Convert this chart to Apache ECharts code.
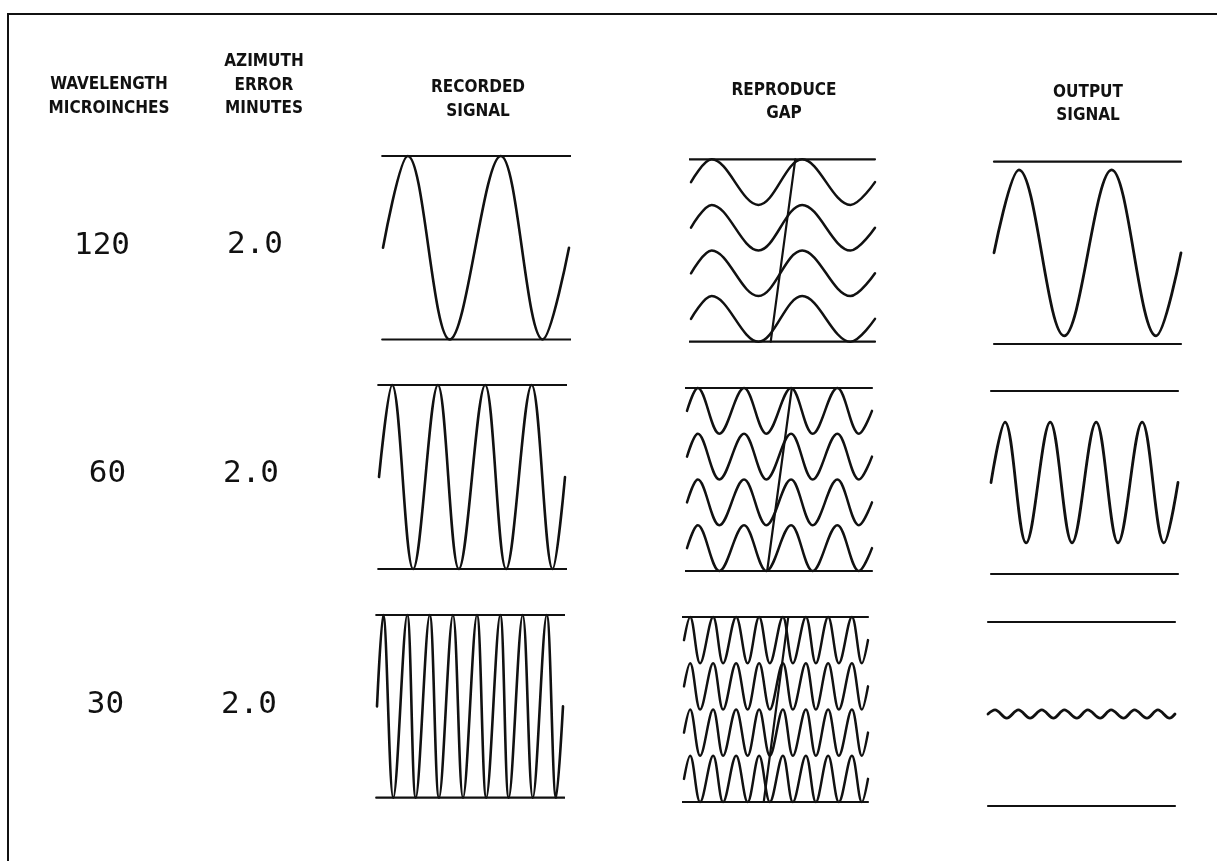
<!DOCTYPE html>
<html><head><meta charset="utf-8">
<script src="https://cdn.jsdelivr.net/npm/echarts@6/dist/echarts.min.js"></script>
<style>html,body{margin:0;padding:0;background:#fff}#c{width:1217px;height:861px}</style>
</head><body><div id="c"></div>
<script>
// ---------- data ----------
const columnTitles = ['RECORDED\nSIGNAL', 'REPRODUCE\nGAP', 'OUTPUT\nSIGNAL'];
const leftTitles = ['WAVELENGTH\nMICROINCHES', 'AZIMUTH\nERROR\nMINUTES'];
const wavelengths = ['120', '60', '30'];
const azimuthErrors = ['2.0', '2.0', '2.0'];
// x in microinches along the tape (0..240), y in normalised amplitude
const recorded120 = [[0,0],[32,1],[86,-1],[152,1],[206,-1],[240,0]];
const recorded60 = [[0,0],[17,1],[44,-1],[76,1],[103,-1],[137,1],[164,-1],[197,1],[224,-1],[240,0]];
const recorded30 = [[0,0],[8,1],[21,-1],[39,1],[50,-1],[68,1],[80,-1],[98,1],[111,-1],[129,1],[141,-1],[159,1],[170,-1],[188,1],[201,-1],[219,1],[231,-1],[240,0]];
const gapTrack120 = [[0,0],[27,1],[88,-1],[145,1],[208,-1],[240,0]];
const gapTrack60 = [[0,0],[14,1],[42,-1],[74,1],[103,-1],[135,1],[163,-1],[195,1],[223,-1],[240,0]];
const gapTrack30 = [[0,0],[8,1],[21,-1],[38,1],[51,-1],[68,1],[83,-1],[98,1],[112,-1],[129,1],[142,-1],[159,1],[172,-1],[188,1],[202,-1],[219,1],[232,-1],[240,0]];
const trackCenters = [3, 1, -1, -3];
const gapSlant = [[104,-4],[136,4]];
const output120 = [[0,0],[32,0.91],[90,-0.91],[151,0.91],[208,-0.91],[240,0]];
const output60 = [[0,0],[18,0.66],[45,-0.66],[76,0.66],[104,-0.66],[135,0.66],[163,-0.66],[194,0.66],[222,-0.66],[240,0]];
const output30 = [[0,0],[9,0.045],[24,-0.045],[39,0.045],[54,-0.045],[69,0.045],[84,-0.045],[98,0.045],[114,-0.045],[128,0.045],[144,-0.045],[158,0.045],[174,-0.045],[188,0.045],[204,-0.045],[218,0.045],[233,-0.045],[240,0]];
const guideSpanRecorded = [-1, 242];
const guideSpanGap = [-2, 240];
const guideSpanOutput = [0, 240];

// ---------- layout ----------
const boxes = [
  [383,156,186,183.5],[691,159.3,184,182.4],[994,161.7,187,182.3],
  [379,385,186,184],[687,388,185,183],[991,391,187,183],
  [377,615,186,182.7],[684,617,184,185],[988,622,187,184]
];
const recordedRows = [recorded120, recorded60, recorded30];
const gapRows = [gapTrack120, gapTrack60, gapTrack30];
const outputRows = [output120, output60, output30];
const spans = [guideSpanRecorded, guideSpanGap, guideSpanOutput];

const grids = [], xAxes = [], yAxes = [], series = [];
const INK = '#111111';
function lineSeries(g, data, width, smooth) {
  return {type:'line', xAxisIndex:g, yAxisIndex:g, data:data, showSymbol:false, symbol:'none',
    smooth: smooth || false, clip:false, silent:true, animation:false,
    lineStyle:{color:INK, width:width, cap:'round', join:'round'}};
}
for (let r = 0; r < 3; r++) {
  for (let c = 0; c < 3; c++) {
    const g = r*3 + c; const b = boxes[g];
    grids.push({left:b[0], top:b[1], width:b[2], height:b[3], containLabel:false});
    const ym = c === 1 ? 4 : 1;
    xAxes.push({type:'value', gridIndex:g, min:0, max:240, show:false});
    yAxes.push({type:'value', gridIndex:g, min:-ym, max:ym, show:false});
    const sp = spans[c];
    series.push(lineSeries(g, [[sp[0], ym],[sp[1], ym]], 2.2));
    series.push(lineSeries(g, [[sp[0], -ym],[sp[1], -ym]], 2.2));
    if (c === 0) series.push(lineSeries(g, recordedRows[r], 2.6, 0.36));
    if (c === 2) series.push(lineSeries(g, outputRows[r], 2.8, 0.36));
    if (c === 1) {
      trackCenters.forEach(tc => {
        series.push(lineSeries(g, gapRows[r].map(p => [p[0], p[1] + tc]), 2.5, 0.36));
      });
      series.push(lineSeries(g, gapSlant, 2.2));
    }
  }
}

const headFont = "'DejaVu Sans Condensed','DejaVu Sans',sans-serif";
const numFont = "'DejaVu Sans Mono','Liberation Mono',monospace";
const graphic = [
  {type:'rect', shape:{x:8, y:14, width:1300, height:1000}, style:{fill:'none', stroke:INK, lineWidth:2}, silent:true}
];
function headText(t, x, y) {
  graphic.push({type:'text', x:x, y:y, silent:true,
    style:{text:t, fill:INK, fontFamily:headFont, fontWeight:'bold', fontSize:17, lineHeight:23.5, align:'center', verticalAlign:'middle'}});
}
headText(leftTitles[0], 109, 96.5);
headText(leftTitles[1], 264, 85.5);
headText(columnTitles[0], 478, 99.5);
headText(columnTitles[1], 784, 102);
headText(columnTitles[2], 1088, 104);
const wlPos = [[102,245.5],[107.5,474],[105.5,705]];
const azPos = [[255,245],[251,474],[249,705]];
for (let r = 0; r < 3; r++) {
  graphic.push({type:'text', x:wlPos[r][0], y:wlPos[r][1], silent:true,
    style:{text:wavelengths[r], fill:INK, fontFamily:numFont, fontSize:31, align:'center', verticalAlign:'middle'}});
  graphic.push({type:'text', x:azPos[r][0], y:azPos[r][1], silent:true,
    style:{text:azimuthErrors[r], fill:INK, fontFamily:numFont, fontSize:31, align:'center', verticalAlign:'middle'}});
}

const chart = echarts.init(document.getElementById('c'), null, {renderer:'canvas'});
chart.setOption({
  backgroundColor:'#ffffff', animation:false,
  grid:grids, xAxis:xAxes, yAxis:yAxes, series:series, graphic:graphic
});
</script></body></html>
